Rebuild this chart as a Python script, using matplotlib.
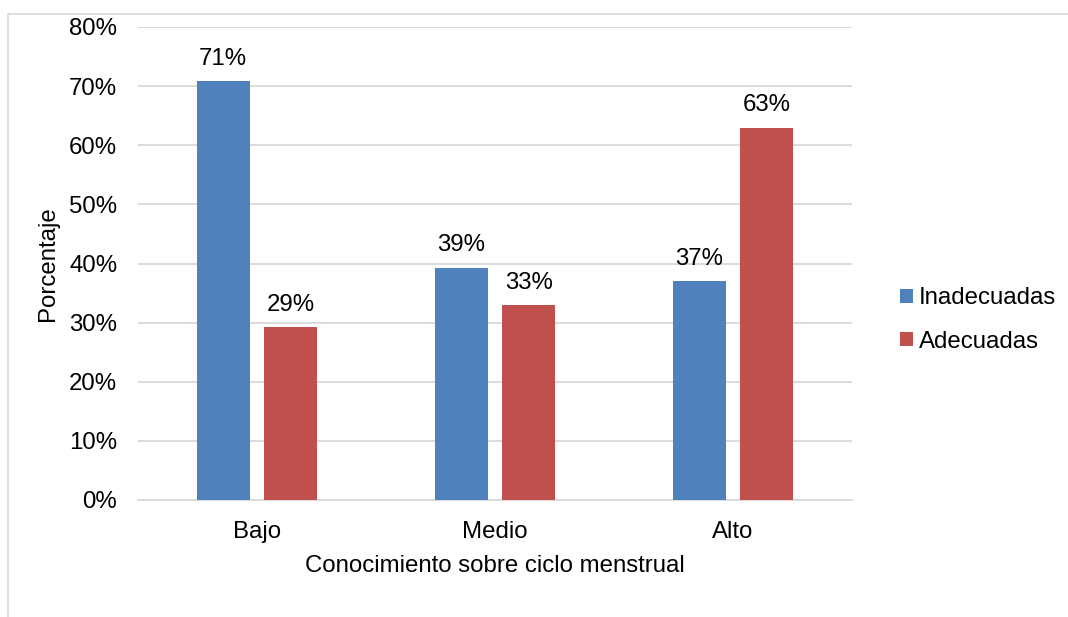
import matplotlib
matplotlib.use("Agg")
import matplotlib.pyplot as plt
from matplotlib.patches import Rectangle
import numpy as np

categories = ["Bajo", "Medio", "Alto"]
inadecuadas = [70.8, 39.3, 37.0]
adecuadas = [29.2, 32.9, 63.0]
series_names = ["Inadecuadas", "Adecuadas"]
yticks = [0, 10, 20, 30, 40, 50, 60, 70, 80]

plt.rcParams['font.family'] = ['Liberation Sans', 'DejaVu Sans']
FS = 17.3

W, H = 1068, 617
fig = plt.figure(figsize=(W/100, H/100), dpi=100)

# outer frame
fig.patches.append(Rectangle((8/W, -0.1), 1.2, 1 - 14/H + 0.1, transform=fig.transFigure,
                             fill=False, edgecolor='#d9d9d9', linewidth=1.2))

ax = fig.add_axes([138/W, 1 - 500/H, (852-138)/W, (500-27)/H])
x = np.arange(len(categories))
w = 0.223
off = 0.142
blue = '#4f81bd'
red = '#c0504d'
b1 = ax.bar(x - off, inadecuadas, w, color=blue, label=series_names[0], zorder=3)
b2 = ax.bar(x + off, adecuadas, w, color=red, label=series_names[1], zorder=3)

for bars, vals in ((b1, inadecuadas), (b2, adecuadas)):
    for b, v in zip(bars, vals):
        ax.text(b.get_x() + b.get_width()/2, v + 1.9, f"{v:.0f}%", ha='center', va='bottom',
                fontsize=FS, color='#000000')

ax.set_xlim(-0.5, 2.5)
ax.set_ylim(0, 80)
ax.set_yticks(yticks)
ax.set_yticklabels([f"{t}%" for t in yticks], fontsize=FS)
ax.set_xticks(x)
ax.set_xticklabels(categories, fontsize=FS)
ax.tick_params(axis='both', length=0)
ax.tick_params(axis='y', pad=15)
ax.tick_params(axis='x', pad=15)
ax.grid(axis='y', color='#d9d9d9', linewidth=1.3, zorder=0)
for s in ['top', 'right', 'left']:
    ax.spines[s].set_visible(False)
ax.spines['bottom'].set_color('#d9d9d9')
ax.spines['bottom'].set_linewidth(1.3)

ax.set_xlabel("Conocimiento sobre ciclo menstrual", fontsize=FS, labelpad=9)
ax.set_ylabel("Porcentaje", fontsize=FS, labelpad=7)

leg = fig.legend(handles=[b1, b2], labels=series_names, loc='center left',
                 bbox_to_anchor=(900/W, 1 - 320/H), bbox_transform=fig.transFigure,
                 frameon=False, fontsize=FS, handlelength=0.55, handleheight=0.55,
                 handletextpad=0.25, labelspacing=0.88, borderpad=0, borderaxespad=0)

fig.savefig("out.png", dpi=100)
